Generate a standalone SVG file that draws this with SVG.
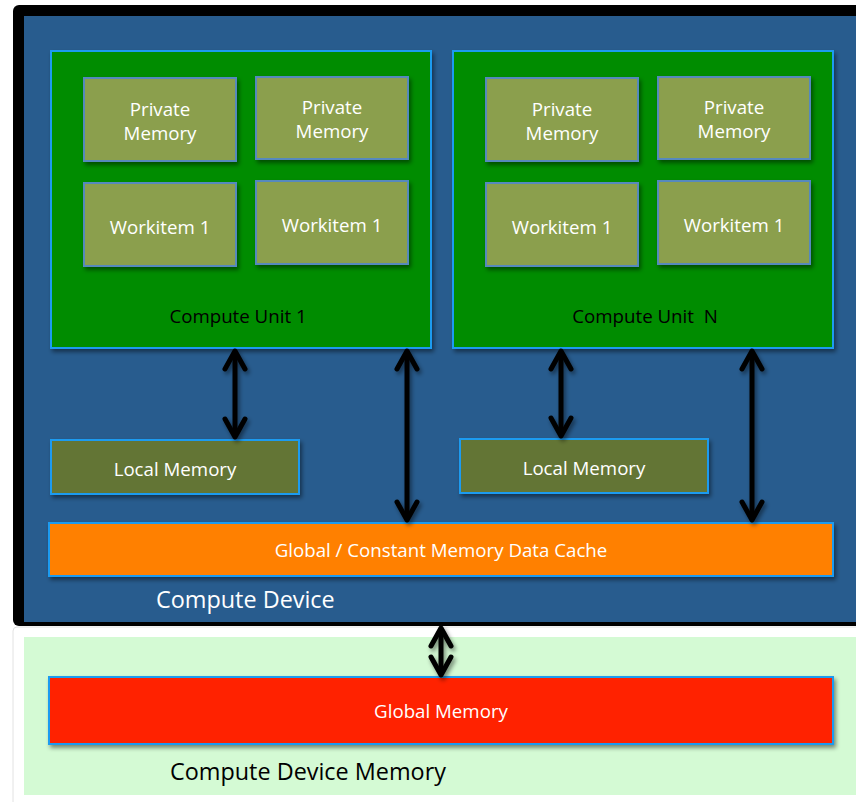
<svg xmlns="http://www.w3.org/2000/svg" width="856" height="802" viewBox="0 0 856 802">
  <defs>
    <filter id="shadow" x="-10%" y="-10%" width="130%" height="140%">
      <feDropShadow dx="2" dy="3" stdDeviation="2" flood-color="#000" flood-opacity="0.45"/>
    </filter>
    <marker id="chev" markerUnits="userSpaceOnUse" viewBox="-26 -16 32 32" markerWidth="32" markerHeight="32" refX="0" refY="0" orient="auto-start-reverse">
      <path d="M -18 -10 L 0 0 L -18 10" fill="none" stroke="#000" stroke-width="5" stroke-linecap="round" stroke-linejoin="round"/>
    </marker>
    <style>
      .cu { fill: #008C00; stroke: #1E9BF0; stroke-width: 2; filter: url(#shadow); }
      .pm { fill: #8B9F4D; stroke: #5689BD; stroke-width: 2; filter: url(#shadow); }
      .lm { fill: #647436; stroke: #1E9BF0; stroke-width: 2; filter: url(#shadow); }
      .cache { fill: #FF8000; stroke: #1E9BF0; stroke-width: 2; filter: url(#shadow); }
      .gm { fill: #FF2400; stroke: #1E9BF0; stroke-width: 2; filter: url(#shadow); }
      .t { font-family: "Open Sans", "Liberation Sans", sans-serif; font-size: 18.7px; text-anchor: middle; fill: #fff; }
      .dark { fill: #000; }
      .big { font-family: "Open Sans", "Liberation Sans", sans-serif; font-size: 23.4px; }
      .conn line { stroke: #000; stroke-width: 5; marker-start: url(#chev); marker-end: url(#chev); }
    </style>
  </defs>

  <rect width="856" height="802" fill="#fff"/>

  <!-- device frame -->
  <g id="compute-device">
    <rect x="13" y="5" width="860" height="621" rx="6" fill="#000"/>
    <rect x="24" y="16" width="850" height="606" fill="#285C8E"/>
    <text class="big" x="156" y="608" fill="#fff">Compute Device</text>
  </g>

  <!-- memory area below the device -->
  <g id="device-memory">
    <rect x="13" y="627" width="860" height="180" rx="4" fill="#fff" stroke="#e2e2e2" stroke-width="1"/>
    <rect x="24" y="637" width="850" height="158" fill="#D4FAD4"/>
    <text class="big" x="170" y="780" fill="#000">Compute Device Memory</text>
  </g>

  <!-- compute unit 1 -->
  <g id="cu1">
    <rect class="cu" x="51" y="51" width="380" height="297"/>
    <text class="t dark" x="238" y="323">Compute Unit 1</text>
  </g>
  <g id="cu1-pm1">
    <rect class="pm" x="84" y="78" width="152" height="83"/>
    <text class="t" x="160" y="116">Private</text>
    <text class="t" x="160" y="140">Memory</text>
  </g>
  <g id="cu1-pm2">
    <rect class="pm" x="256" y="77" width="152" height="82"/>
    <text class="t" x="332" y="114">Private</text>
    <text class="t" x="332" y="138">Memory</text>
  </g>
  <g id="cu1-wi1">
    <rect class="pm" x="84" y="183" width="152" height="83"/>
    <text class="t" x="160" y="234">Workitem 1</text>
  </g>
  <g id="cu1-wi2">
    <rect class="pm" x="256" y="181" width="152" height="83"/>
    <text class="t" x="332" y="232">Workitem 1</text>
  </g>

  <!-- compute unit N -->
  <g id="cuN">
    <rect class="cu" x="453" y="51" width="380" height="297"/>
    <text class="t dark" x="645" y="323" xml:space="preserve">Compute Unit  N</text>
  </g>
  <g id="cuN-pm1">
    <rect class="pm" x="486" y="78" width="152" height="83"/>
    <text class="t" x="562" y="116">Private</text>
    <text class="t" x="562" y="140">Memory</text>
  </g>
  <g id="cuN-pm2">
    <rect class="pm" x="658" y="77" width="152" height="82"/>
    <text class="t" x="734" y="114">Private</text>
    <text class="t" x="734" y="138">Memory</text>
  </g>
  <g id="cuN-wi1">
    <rect class="pm" x="486" y="183" width="152" height="83"/>
    <text class="t" x="562" y="234">Workitem 1</text>
  </g>
  <g id="cuN-wi2">
    <rect class="pm" x="658" y="181" width="152" height="83"/>
    <text class="t" x="734" y="232">Workitem 1</text>
  </g>

  <!-- local memories -->
  <g id="local-mem-1">
    <rect class="lm" x="51" y="440" width="248" height="54"/>
    <text class="t" x="175" y="476">Local Memory</text>
  </g>
  <g id="local-mem-N">
    <rect class="lm" x="460" y="439" width="248" height="54"/>
    <text class="t" x="584" y="475">Local Memory</text>
  </g>

  <!-- cache -->
  <g id="cache">
    <rect class="cache" x="49" y="523" width="784" height="53"/>
    <text class="t" x="441" y="557">Global / Constant Memory Data Cache</text>
  </g>

  <!-- global memory -->
  <g id="global-mem">
    <rect class="gm" x="49" y="677" width="784" height="67"/>
    <text class="t" x="441" y="718">Global Memory</text>
  </g>

  <!-- connectors -->
  <g id="connectors" class="conn" filter="url(#shadow)">
    <line x1="235" y1="351" x2="235" y2="437"/>
    <line x1="407" y1="351" x2="407" y2="520"/>
    <line x1="561" y1="351" x2="561" y2="436"/>
    <line x1="752" y1="351" x2="752" y2="520"/>
    <line x1="441" y1="628" x2="441" y2="675"/>
  </g>
</svg>
